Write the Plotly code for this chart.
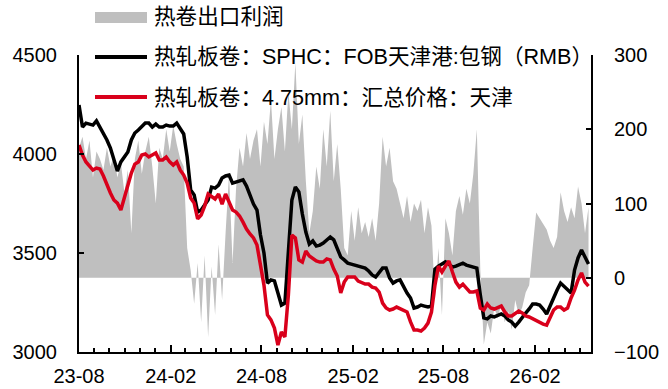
import pandas as pd
import plotly.graph_objects as go

start_date = "2023-08-01"

sphc_fob = [
    4247, 4136, 4156, 4151, 4146, 4167, 4136, 4106, 4071, 4030, 3970, 3914, 3960, 3985, 4010, 4071,
    4106, 4121, 4136, 4156, 4156, 4136, 4151, 4136, 4136, 4146, 4141, 4141, 4156, 4131, 4101,
    3985, 3818, 3793, 3707, 3717, 3742, 3768, 3833, 3828, 3843, 3879, 3889, 3894, 3853, 3858, 3864,
    3869, 3838, 3793, 3747,
    3717, 3591, 3500, 3348, 3364, 3359, 3298, 3237, 3247, 3490, 3768, 3833, 3808, 3697, 3606, 3545,
    3561, 3535, 3540, 3550, 3566, 3581, 3566, 3520, 3480,
    3465, 3449, 3444, 3439, 3434, 3429, 3424, 3409, 3389, 3379, 3404, 3424, 3424, 3374, 3348, 3359,
    3364, 3328, 3298, 3273, 3222, 3227, 3237, 3232, 3227, 3232,
    3419, 3434, 3444, 3455, 3444, 3429, 3434, 3444, 3449, 3439, 3434, 3429, 3424, 3288,
    3172, 3167, 3182, 3177, 3187, 3192, 3182, 3162, 3151,
    3131, 3151, 3177, 3197, 3217, 3242, 3242, 3237, 3217, 3192, 3232, 3278, 3313, 3348, 3333, 3313,
    3298, 3414, 3475, 3515, 3475, 3444,
]

hr_tianjin = [
    4045, 3995, 3960, 3939, 3919, 3929, 3924, 3889, 3843, 3803, 3768, 3752, 3717, 3783, 3848, 3904,
    3949, 3960, 3995, 4000, 3985, 3995, 4005, 3970, 3970, 3985, 3960, 3944, 3960, 3919, 3894,
    3853, 3778, 3752, 3672, 3692, 3737, 3798, 3788, 3773, 3798, 3747, 3798, 3752, 3717, 3707, 3687,
    3656, 3621, 3596, 3576,
    3540, 3434, 3338, 3187, 3162, 3121, 3035, 3101, 3076, 3288, 3591, 3576, 3465, 3454, 3510, 3485,
    3470, 3460, 3454, 3454, 3470, 3465, 3419, 3384, 3298,
    3353, 3379, 3379, 3379, 3358, 3348, 3343, 3343, 3328, 3323, 3303, 3247, 3222, 3212, 3217, 3227,
    3217, 3212, 3202, 3152, 3111, 3111, 3106, 3121, 3146, 3202,
    3338, 3434, 3404, 3434, 3459, 3404, 3353, 3328, 3343, 3323, 3303, 3303, 3308, 3222, 3212, 3242,
    3222, 3217, 3227, 3232, 3202, 3182, 3182,
    3192, 3207, 3197, 3182, 3177, 3167, 3157, 3146, 3141, 3136, 3177, 3212, 3227, 3227, 3212, 3222,
    3273, 3313, 3364, 3399, 3353, 3333,
]

export_profit = [
    175, 190, 160, 185, 135, 170, 160, 145, 175, 150, 165, 135, 155, 115, 145, 60,
    160, 185, 140, 170, 190, 150, 100, 175, 160, 200, 170, 205, 180, 160, 150,
    40, 10, -35, 20, -60, 30, -80, 15, -50, 45, -30, 60, 140, 20,
    120, 175, 150, 195, 160, 185,
    200, 150, 210, 180, 240, 160, 200, 230, 170, 250, 200, 290, 180, 220, 130, 60,
    90, 150, 120, 200, 150, 225, 130, 180, 120,
    40, 30, 90, 50, 95, 60,
    75, 55, 80, 50, 100,
    190, 150, 175, 130, 120,
    100, 80, 110, 75, 100, 90,
    105, 60, 95, 70,
    -30, 40, -50, 80, 60, 30, 90, 110, 85, 120, 100, 140, 200,
    10, -90, -60, -75, -40, -55, -35, -60, -45, -70, -30, -50, -40, -20, -10,
    40, 88, 80, 72, 65, 50, 40, 55, 115, 90, 75, 95, 80, 123, 100, 60, 95,
]

names = ["热卷出口利润", "热轧板卷：SPHC：FOB天津港:包钢（RMB）", "热轧板卷：4.75mm：汇总价格：天津"]
colors = ["#BFBFBF", "#000000", "#D9001B"]

dates = pd.date_range(start_date, periods=len(sphc_fob), freq="7D")

FONT = "Liberation Sans, Arial, Noto Sans CJK SC, sans-serif"

fig = go.Figure()
fig.add_trace(go.Scatter(
    x=dates, y=export_profit, name=names[0], mode="lines",
    line=dict(width=0, color=colors[0]), fill="tozeroy", fillcolor=colors[0],
    yaxis="y", showlegend=False,
))
fig.add_trace(go.Scatter(
    x=dates, y=sphc_fob, name=names[1], mode="lines",
    line=dict(width=3.5, color=colors[1]), yaxis="y2", showlegend=False,
))
fig.add_trace(go.Scatter(
    x=dates, y=hr_tianjin, name=names[2], mode="lines",
    line=dict(width=3.5, color=colors[2]), yaxis="y2", showlegend=False,
))

# Manual legend (paper coordinates; plot area spans x 79..591, y 55..352 px)
def px_x(px):
    return (px - 79) / 512.0

def px_y(py):
    return (352 - py) / 297.0

legend_rows = [17, 57, 97]
shapes = [
    dict(type="rect", xref="paper", yref="paper",
         x0=px_x(95), x1=px_x(147), y0=px_y(23), y1=px_y(12),
         fillcolor=colors[0], line=dict(width=0), layer="above"),
    dict(type="line", xref="paper", yref="paper",
         x0=px_x(95), x1=px_x(147), y0=px_y(legend_rows[1]), y1=px_y(legend_rows[1]),
         line=dict(color=colors[1], width=4), layer="above"),
    dict(type="line", xref="paper", yref="paper",
         x0=px_x(95), x1=px_x(147), y0=px_y(legend_rows[2]), y1=px_y(legend_rows[2]),
         line=dict(color=colors[2], width=4), layer="above"),
]
annotations = [
    dict(text=names[k], xref="paper", yref="paper", x=px_x(152), y=px_y(legend_rows[k]),
         xanchor="left", yanchor="middle", showarrow=False,
         font=dict(family=FONT, size=21.6, color="black"))
    for k in range(3)
]

axis_common = dict(
    showline=True, linecolor="black", linewidth=2, showgrid=False, zeroline=False,
    ticks="inside", tickcolor="black", tickwidth=1.5, automargin=False,
    tickfont=dict(family=FONT, size=20, color="black"),
)

fig.update_layout(
    template="none",
    width=668, height=389,
    margin=dict(l=79, r=77, t=55, b=37, pad=0),
    plot_bgcolor="white", paper_bgcolor="white",
    font=dict(family=FONT, size=20, color="black"),
    showlegend=False,
    shapes=shapes,
    annotations=annotations,
    xaxis=dict(
        type="date", range=["2023-08-01", "2026-05-24"],
        tick0="2023-08-01", dtick="M6", tickformat="%y-%m", ticklen=7,
        minor=dict(dtick="M1", ticks="inside", ticklen=4, tickcolor="black", tickwidth=1.5),
        ticklabelstandoff=5,
        **axis_common,
    ),
    yaxis=dict(
        side="right", range=[-100, 300], dtick=100, ticklen=5,
        ticklabelstandoff=17,
        **axis_common,
    ),
    yaxis2=dict(
        side="left", overlaying="y", range=[3000, 4500], dtick=500, ticklen=5,
        ticklabelstandoff=16,
        **axis_common,
    ),
)

fig.write_html("out.html")
